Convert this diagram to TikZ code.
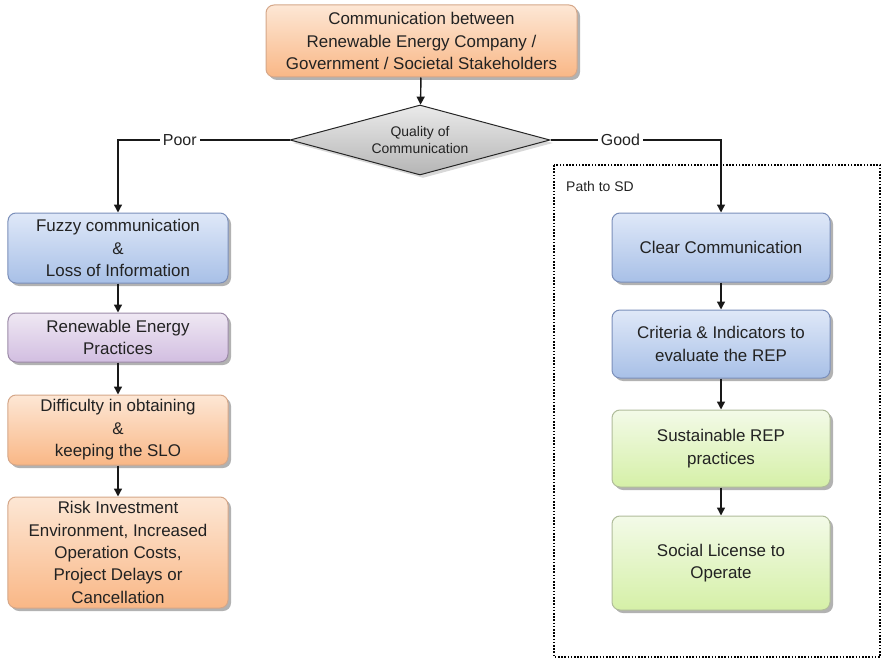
\documentclass[tikz,border=0pt]{standalone}
\usepackage{fontspec}
\setmainfont{Liberation Sans}
\usetikzlibrary{shapes.geometric,shadows,arrows.meta}
\definecolor{txt}{HTML}{222222}
\definecolor{ort}{HTML}{FDE7D5}
\definecolor{orb}{HTML}{F9B786}
\definecolor{ord}{HTML}{D5A789}
\definecolor{blt}{HTML}{DFE8F8}
\definecolor{blb}{HTML}{A8C0E7}
\definecolor{bld}{HTML}{7B8FBA}
\definecolor{put}{HTML}{EFE8F3}
\definecolor{pub}{HTML}{D2BEE1}
\definecolor{pud}{HTML}{9C8BA8}
\definecolor{grt}{HTML}{F3FAE8}
\definecolor{grb}{HTML}{D5F0A7}
\definecolor{grd}{HTML}{B0BC9B}
\definecolor{dgt}{HTML}{EAEAEA}
\definecolor{dgb}{HTML}{B5B5B5}
\begin{document}
\begin{tikzpicture}[x=1bp,y=-1bp,
  flow/.style={rounded corners=8bp, line width=1bp, align=center, inner sep=0pt,
    drop shadow={shadow xshift=3bp, shadow yshift=-3bp, fill=black!30, opacity=1},
    font=\fontsize{17}{22.5}\selectfont, text=txt},
  orangebox/.style={flow, draw=ord, top color=ort, bottom color=orb},
  bluebox/.style={flow, draw=bld, top color=blt, bottom color=blb},
  purplebox/.style={flow, draw=pud, top color=put, bottom color=pub},
  greenbox/.style={flow, draw=grd, top color=grt, bottom color=grb},
  arr/.style={line width=1.4bp, draw=black!90, -{Triangle[length=8bp,width=8bp]}},
  lbl/.style={fill=white, inner sep=3bp, font=\fontsize{16}{18}\selectfont, text=txt}]
\useasboundingbox (0,0) rectangle (882,659);

\node[orangebox, minimum width=311bp, minimum height=72bp] (top) at (421.5,41)
  {Communication between\\Renewable Energy Company /\\Government / Societal Stakeholders};

\node[diamond, draw=black!85, line width=1bp, top color=dgt, bottom color=dgb,
  minimum width=260bp, minimum height=70bp, aspect=3.7, inner sep=0pt, align=center,
  font=\fontsize{14}{18}\selectfont, text=txt,
  drop shadow={shadow xshift=3bp, shadow yshift=-3bp, fill=black!30}] (dia) at (420,140)
  {Quality of\\Communication};

\node[bluebox, minimum width=220bp, minimum height=70bp] (fuzzy) at (118,248)
  {Fuzzy communication\\\&\\Loss of Information};
\node[purplebox, minimum width=220bp, minimum height=49bp] (rep) at (118,337.5)
  {Renewable Energy\\Practices};
\node[orangebox, minimum width=220bp, minimum height=70bp] (diff) at (118,430)
  {Difficulty in obtaining\\\&\\keeping the SLO};
\node[orangebox, minimum width=220bp, minimum height=111bp] (risk) at (118,552.5)
  {Risk Investment\\Environment, Increased\\Operation Costs,\\Project Delays or\\Cancellation};

\node[bluebox, minimum width=218bp, minimum height=69bp] (clear) at (721,247.5)
  {Clear Communication};
\node[bluebox, minimum width=218bp, minimum height=68bp] (crit) at (721,344)
  {Criteria \& Indicators to\\evaluate the REP};
\node[greenbox, minimum width=218bp, minimum height=77bp] (sust) at (721,448.5)
  {Sustainable REP\\practices};
\node[greenbox, minimum width=218bp, minimum height=94bp] (slo) at (721,563)
  {Social License to\\Operate};

\draw[line width=1.1bp, dash pattern=on 1.6bp off 1.6bp] (554,165) rectangle (880,657);
\node[anchor=west, inner sep=0pt, font=\fontsize{14}{16}\selectfont, text=txt] (path) at (566,187) {Path to SD};

\draw[arr] (top) -- (dia);
\draw[arr] (dia.west) -| node[lbl, pos=0.32] {Poor} (fuzzy.north);
\draw[arr] (dia.east) -| node[lbl, pos=0.205] {Good} (clear.north);
\draw[arr] (fuzzy) -- (rep);
\draw[arr] (rep) -- (diff);
\draw[arr] (diff) -- (risk);
\draw[arr] (clear) -- (crit);
\draw[arr] (crit) -- (sust);
\draw[arr] (sust) -- (slo);
\end{tikzpicture}
\end{document}
